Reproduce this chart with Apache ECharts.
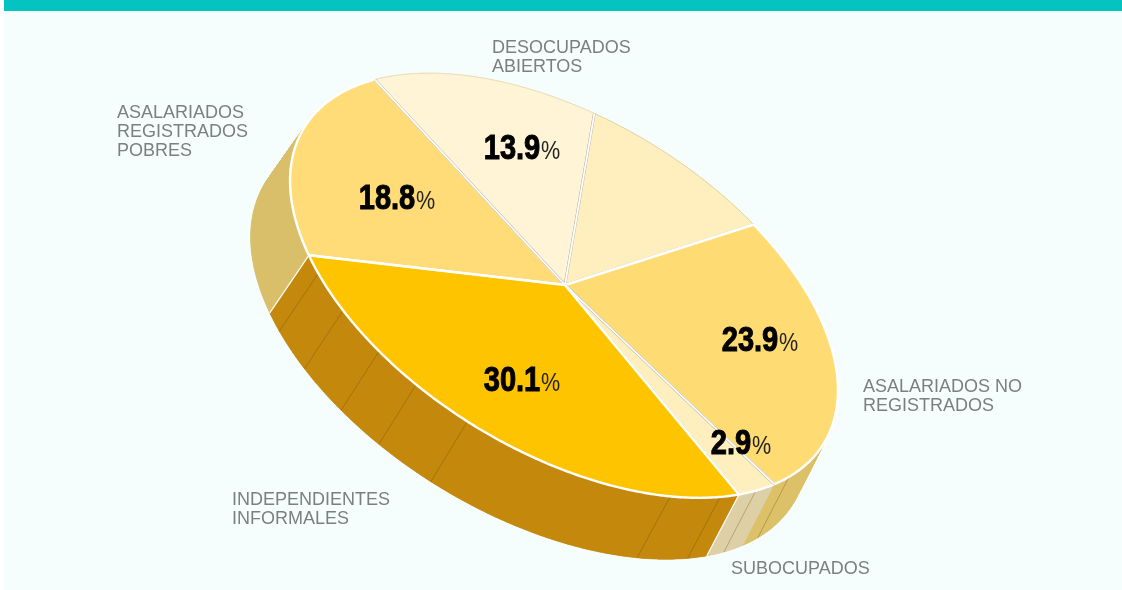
<!DOCTYPE html>
<html lang="es">
<head>
<meta charset="utf-8">
<title>Ocupados por condición</title>
<script src="https://cdn.jsdelivr.net/npm/echarts@6/dist/echarts.min.js"></script>
<style>
    html, body { margin: 0; padding: 0; background: #fff; }
    #chart { width: 1122px; height: 590px; }
</style>
</head>
<body>
<div id="chart"></div>
<script type="text/javascript">
    // valores, en orden horario
    var categories = ['ASALARIADOS\nREGISTRADOS\nPOBRES', 'DESOCUPADOS\nABIERTOS', '', 'ASALARIADOS NO\nREGISTRADOS', 'SUBOCUPADOS', 'INDEPENDIENTES\nINFORMALES'];
    var shares = [18.8, 13.9, 10.4, 23.9, 2.9, 30.1];
    var showPct = [true, true, false, true, true, true];
    var topColors = ['#FFDC78', '#FFF4D6', '#FFEFBF', '#FFDB73', '#FFEFBF', '#FFC400'];
    var wallColors = ['#D9BF69', '#E8DDB5', '#E8DDB5', '#DCC168', '#DDD0A6', '#C4880D'];
    var rimColors = ['#fff', '#EADFB8', '#E5D6A4', '#fff', '#fff', '#fff'];
    // lineas finas de la pared, en grados del disco
    var facetAngles = [135.4, 125.4, 114.1, 104.3, 92.3, 48.8, 36.9, 27.2, 16.4];

    var pctPos = [[397, 199], [522, 149], null, [760, 341], [741, 444], [522, 381]];
    var namePos = [[117, 104], [492, 39], null, [863, 378], [731, 560], [232, 491]];

    // disco inclinado: elipse rotada
    var cx = 564, cy = 285.5, ra = 304, rb = 166.5, tilt = 31.2 * Math.PI / 180;
    var hub = [565, 285];
    var startDeg = 140.3;
    var depthX = -35, depthY = 58, depthScale = 1.016;

    function rim(deg) {
        var t = deg * Math.PI / 180;
        var u = ra * Math.cos(t), v = rb * Math.sin(t);
        return [cx + u * Math.cos(tilt) - v * Math.sin(tilt), cy + u * Math.sin(tilt) + v * Math.cos(tilt)];
    }
    function rimLow(deg) {
        var p = rim(deg);
        return [cx + (p[0] - cx) * depthScale + depthX, cy + (p[1] - cy) * depthScale + depthY];
    }
    function arc(fn, from, to) {
        var pts = [];
        var n = Math.ceil(Math.abs(to - from) * 1.5) + 1;
        for (var i = 0; i <= n; i++) pts.push(fn(from + (to - from) * i / n));
        return pts;
    }

    var sliceData = [];
    var acc = 0;
    shares.forEach(function (v, i) {
        sliceData.push([i, startDeg + acc * 3.6, startDeg + (acc + v) * 3.6]);
        acc += v;
    });

    function renderWall(params, api) {
        var i = api.value(0), a = api.value(1), b = api.value(2);
        var kids = [];
        // tramos para que salga recta la silueta, y encima el poligono entero para tapar costuras
        var hi = arc(rim, a, b), lo = arc(rimLow, a, b);
        for (var k = 0; k < hi.length - 1; k++) {
            kids.push({ type: 'polygon', shape: { points: [hi[k], hi[k + 1], lo[k + 1], lo[k]] }, style: { fill: wallColors[i], stroke: wallColors[i], lineWidth: 0.6 } });
        }
        kids.push({ type: 'polygon', z2: 2, shape: { points: hi.concat(lo.slice().reverse()) }, style: { fill: wallColors[i] } });
        if (i === 0 || i === 4) {
            var edge = i === 0 ? a : b;
            kids.push({ type: 'line', z2: 5, shape: { x1: rim(edge)[0], y1: rim(edge)[1], x2: rimLow(edge)[0], y2: rimLow(edge)[1] }, style: { stroke: '#fff', lineWidth: 1.2 } });
        }
        return { type: 'group', children: kids };
    }

    function renderFacet(params, api) {
        var p = rim(api.value(0)), q = rimLow(api.value(0));
        return { type: 'line', shape: { x1: p[0], y1: p[1], x2: q[0], y2: q[1] }, style: { stroke: 'rgba(90,60,0,0.5)', lineWidth: 0.6 } };
    }

    function renderTop(params, api) {
        var i = api.value(0), a = api.value(1), b = api.value(2);
        var curve = arc(rim, a, b);
        return {
            type: 'group',
            children: [
                { type: 'polygon', shape: { points: [hub].concat(curve) }, style: { fill: topColors[i] } },
                { type: 'polyline', shape: { points: curve }, style: { fill: null, stroke: rimColors[i], lineWidth: rimColors[i] === '#fff' ? 2.4 : 1 } },
                { type: 'polyline', shape: { points: [rim(a), hub, rim(b)] }, style: { fill: null, stroke: i === 1 || i === 2 || i === 4 ? '#bdb9a8' : '#fff', lineWidth: 2.6 } },
                { type: 'polyline', shape: { points: [rim(a), hub, rim(b)] }, style: { fill: null, stroke: '#fff', lineWidth: 1.7 } }
            ]
        };
    }

    var graphics = [
        { type: 'rect', silent: true, z: 0, shape: { x: 4, y: 0, width: 1118, height: 590 }, style: { fill: '#F6FEFD' } },
        { type: 'rect', silent: true, z: 0, shape: { x: 4, y: 0, width: 1118, height: 11 }, style: { fill: '#04C3C1' } }
    ];
    categories.forEach(function (name, i) {
        if (!name) return;
        graphics.push({
            type: 'text', silent: true, z: 10, x: namePos[i][0], y: namePos[i][1],
            style: { text: name, fill: '#7A7F80', font: '300 18px "Liberation Sans"', lineHeight: 19, textVerticalAlign: 'top' }
        });
    });
    shares.forEach(function (v, i) {
        if (!showPct[i]) return;
        graphics.push({
            type: 'text', silent: true, z: 10, x: pctPos[i][0], y: pctPos[i][1], scaleX: 0.83,
            style: {
                text: '{n|' + v.toFixed(1) + '}{p|%}',
                align: 'center', verticalAlign: 'middle',
                rich: {
                    n: { fontFamily: 'Liberation Sans', fontWeight: 'bold', fontSize: 35, fill: '#000', stroke: '#000', lineWidth: 1 },
                    p: { fontFamily: 'Liberation Sans', fontSize: 26, fill: '#222', padding: [6, 0, 0, 1] }
                }
            }
        });
    });

    var myChart = echarts.init(document.getElementById('chart'), null, { renderer: 'canvas' });
    myChart.setOption({
        animation: false,
        backgroundColor: '#fff',
        graphic: graphics,
        series: [
            { type: 'custom', coordinateSystem: 'none', silent: true, z: 2, renderItem: renderWall, data: sliceData },
            { type: 'custom', coordinateSystem: 'none', silent: true, z: 3, renderItem: renderFacet, data: facetAngles.map(function (d) { return [d]; }) },
            { type: 'custom', coordinateSystem: 'none', silent: true, z: 4, renderItem: renderTop, data: sliceData }
        ]
    });
</script>
</body>
</html>
